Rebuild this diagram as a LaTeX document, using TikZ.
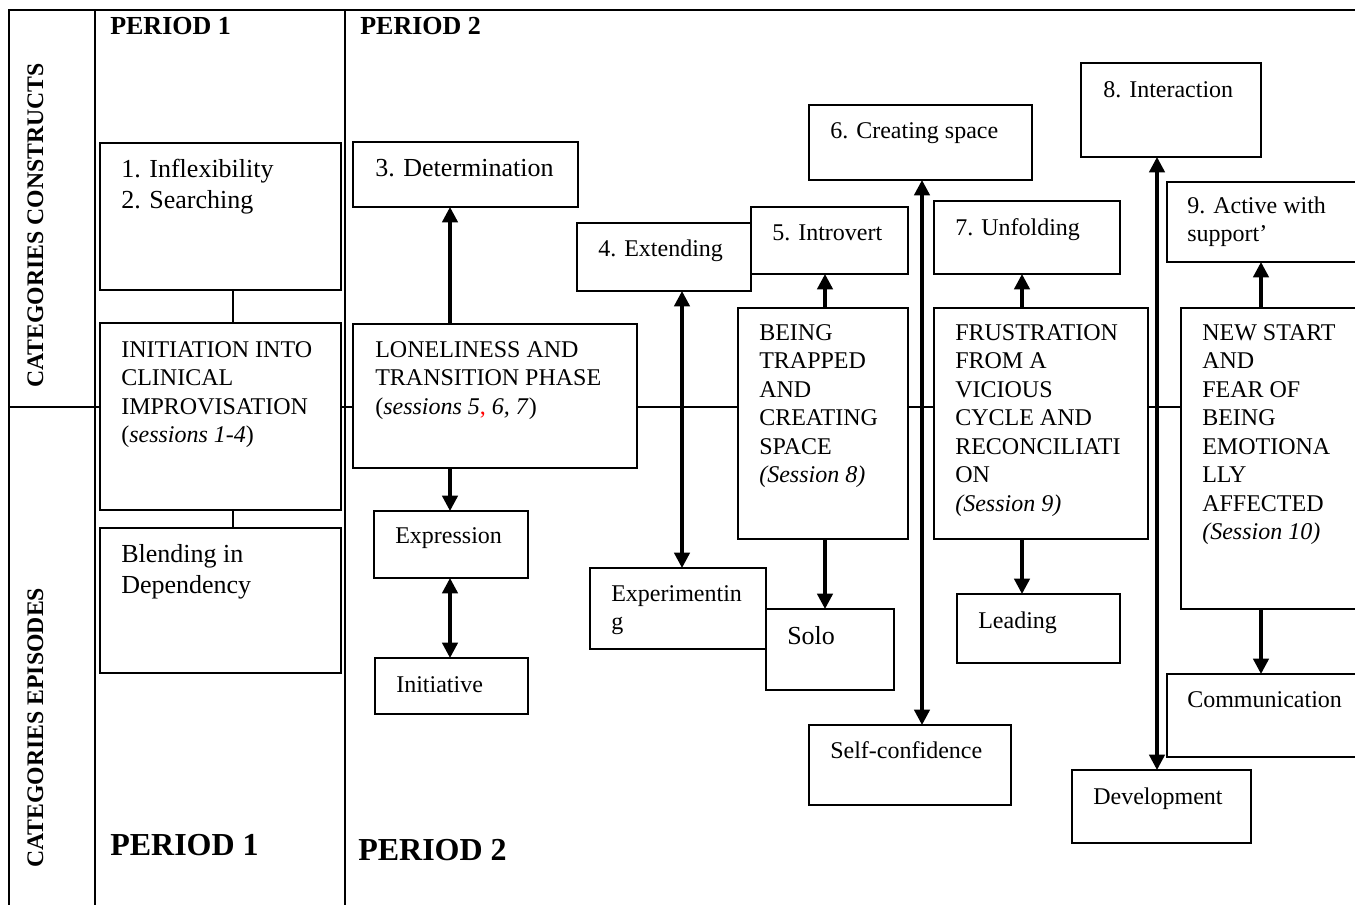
\documentclass[tikz,border=0pt]{standalone}
\usepackage{fontspec}
\setmainfont{Liberation Serif}
\usetikzlibrary{arrows.meta,fit}
\begin{document}
\begin{tikzpicture}[x=0.75pt,y=-0.75pt,
  box/.style={draw,line width=1.7pt,fill=white,inner sep=0pt,outer sep=0pt},
  frame/.style={line width=2pt},
  con/.style={line width=1.7pt},
  sm/.style={font=\fontsize{18}{21.4}\selectfont,align=left,inner sep=0pt,anchor=north west},
  lg/.style={font=\fontsize{19.5}{23.25}\selectfont,align=left,inner sep=0pt,anchor=north west},
  hd/.style={font=\fontsize{19.5}{23}\selectfont\bfseries,inner sep=0pt,anchor=base west},
  hdb/.style={font=\fontsize{24}{28}\selectfont\bfseries,inner sep=0pt,anchor=base west},
  side/.style={font=\fontsize{17.8}{21}\selectfont\bfseries,inner sep=0pt,anchor=base west,rotate=90},
  arr/.style={line width=2.5pt,-{Triangle[length=11.5pt,width=11.5pt]}},
  darr/.style={line width=2.5pt,{Triangle[length=11.5pt,width=11.5pt]}-{Triangle[length=11.5pt,width=11.5pt]}}]
\clip (0,0) rectangle (1355,905);
% frame
\draw[frame] (9,905) -- (9,10) -- (1355,10);
\draw[frame] (95,10) -- (95,905);
\draw[frame] (345,10) -- (345,905);
\coordinate (hl) at (9,407);
\coordinate (hr) at (1355,407);
\draw[con] (hl) -- (hr);
% side labels and headers
\node[side] (sc) at (43,388) {CATEGORIES CONSTRUCTS};
\node[side] (se) at (43,868) {CATEGORIES EPISODES};
\node[hd] (p1t) at (110,35) {PERIOD 1};
\node[hd] (p2t) at (360,35) {PERIOD 2};
\node[hdb] (p1b) at (110,855) {PERIOD 1};
\node[hdb] (p2b) at (358,860) {PERIOD 2};
% boxes
\node[box,fit={(100,143)(341,290)}] (b1) {};
\node[box,fit={(100,323)(341,510)}] (init) {};
\node[box,fit={(100,528)(341,673)}] (blend) {};
\node[box,fit={(353,142)(578,207)}] (det) {};
\node[box,fit={(353,324)(637,468)}] (lone) {};
\node[box,fit={(374,511)(528,578)}] (expr) {};
\node[box,fit={(375,658)(528,714)}] (initv) {};
\node[box,fit={(577,223)(751,291)}] (ext) {};
\node[box,fit={(590,568)(766,649)}] (exper) {};
\node[box,fit={(751,207)(908,274)}] (intro) {};
\node[box,fit={(738,308)(908,539)}] (trap) {};
\node[box,fit={(766,609)(894,690)}] (solo) {};
\node[box,fit={(809,105)(1032,180)}] (cs) {};
\node[box,fit={(809,725)(1011,805)}] (selfc) {};
\node[box,fit={(934,201)(1120,274)}] (unf) {};
\node[box,fit={(934,308)(1148,539)}] (frus) {};
\node[box,fit={(957,594)(1120,663)}] (lead) {};
\node[box,fit={(1081,63)(1261,157)}] (inter) {};
\node[box,fit={(1072,770)(1251,843)}] (dev) {};
\node[box,fit={(1167,182)(1365,262)}] (act) {};
\node[box,fit={(1181,308)(1365,609)}] (news) {};
\node[box,fit={(1167,674)(1365,757)}] (comm) {};
% texts
\node[lg] (t1) at (121,155.3) {\strut 1. Inflexibility\\2. Searching};
\node[sm] (tinit) at (121,337) {\strut INITIATION INTO\\CLINICAL\\IMPROVISATION\\(\textit{sessions 1-4})};
\node[lg] (tblend) at (121,540.3) {\strut Blending in\\Dependency};
\node[lg] (tdet) at (375,154.3) {\strut 3. Determination};
\node[sm] (tlone) at (375,337) {\strut LONELINESS AND\\TRANSITION PHASE\\(\textit{sessions 5}{\color{red},} \textit{6, 7})};
\node[sm] (texpr) at (395,523) {\strut Expression};
\node[sm] (tinitv) at (396,672) {\strut Initiative};
\node[sm] (text) at (598,236) {\strut 4. Extending};
\node[sm] (texper) at (611,581) {\strut Experimentin\\g};
\node[sm] (tintro) at (772,220) {\strut 5. Introvert};
\node[sm] (ttrap) at (759,320) {\strut BEING\\TRAPPED\\AND\\CREATING\\SPACE\\\textit{(Session 8)}};
\node[lg] (tsolo) at (787,622.3) {\strut Solo};
\node[sm] (tcs) at (830,118) {\strut 6. Creating space};
\node[sm] (tselfc) at (830,738) {\strut Self-confidence};
\node[sm] (tunf) at (955,215) {\strut 7. Unfolding};
\node[sm] (tfrus) at (955,320) {\strut FRUSTRATION\\FROM A\\VICIOUS\\CYCLE AND\\RECONCILIATI\\ON\\\textit{(Session 9)}};
\node[sm] (tlead) at (978,608) {\strut Leading};
\node[sm] (tinter) at (1103,77) {\strut 8. Interaction};
\node[sm] (tdev) at (1093,784) {\strut Development};
\node[sm] (tact) at (1187,193) {\strut 9. Active with\\support’};
\node[sm] (tnews) at (1202,320) {\strut NEW START\\AND\\FEAR OF\\BEING\\EMOTIONA\\LLY\\AFFECTED\\\textit{(Session 10)}};
\node[sm] (tcomm) at (1187,687) {\strut Communication};
% connector x positions
\coordinate (xa) at (233,0);
\coordinate (xb) at (450,0);
\coordinate (xc) at (682,0);
\coordinate (xd) at (825,0);
\coordinate (xe) at (922,0);
\coordinate (xf) at (1022,0);
\coordinate (xg) at (1157,0);
\coordinate (xh) at (1261,0);
% period 1 connectors
\draw[con] (b1.south -| xa) -- (init.north -| xa);
\draw[con] (init.south -| xa) -- (blend.north -| xa);
% arrows
\draw[arr] (lone.north -| xb) -- (det.south -| xb);
\draw[arr] (lone.south -| xb) -- (expr.north -| xb);
\draw[darr] (expr.south -| xb) -- (initv.north -| xb);
\draw[darr] (ext.south -| xc) -- (exper.north -| xc);
\draw[arr] (trap.north -| xd) -- (intro.south -| xd);
\draw[arr] (trap.south -| xd) -- (solo.north -| xd);
\draw[darr] (cs.south -| xe) -- (selfc.north -| xe);
\draw[arr] (frus.north -| xf) -- (unf.south -| xf);
\draw[arr] (frus.south -| xf) -- (lead.north -| xf);
\draw[darr] (inter.south -| xg) -- (dev.north -| xg);
\draw[arr] (news.north -| xh) -- (act.south -| xh);
\draw[arr] (news.south -| xh) -- (comm.north -| xh);
\end{tikzpicture}
\end{document}
